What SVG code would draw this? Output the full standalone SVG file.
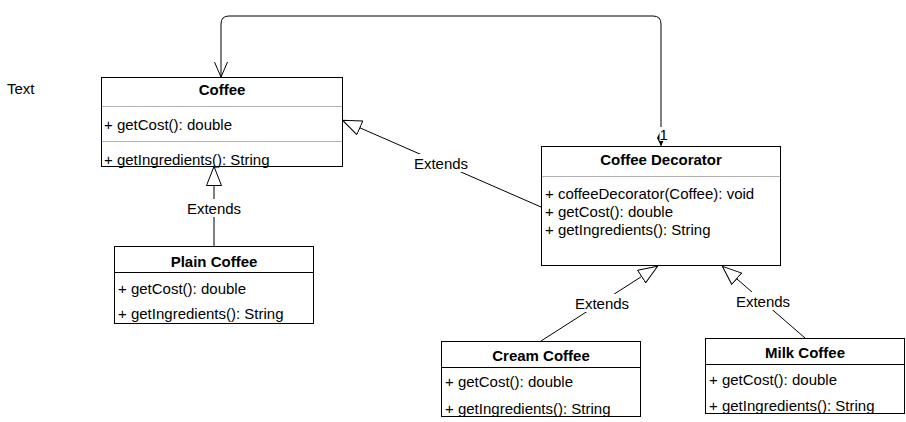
<svg xmlns="http://www.w3.org/2000/svg" width="906" height="422" viewBox="0 0 906 422">
<style>
text{font-family:"Liberation Sans",Arial,sans-serif;font-size:15px;fill:#000}
.t{font-weight:bold;text-anchor:middle}
.box{fill:#fff;stroke:#000;stroke-width:1}
.sep{stroke:#b3b3b3;stroke-width:1}
.sepd{stroke:#000;stroke-width:1}
.c{fill:none;stroke:#000;stroke-width:1}
.lbl{text-anchor:middle}
</style>
<defs>
<marker id="ext" markerUnits="userSpaceOnUse" viewBox="0 0 20 16" refX="20" refY="8" markerWidth="20" markerHeight="16" orient="auto">
<path d="M0.5,0.5 L19.5,8 L0.5,15.5 Z" fill="#fff" stroke="#000" stroke-width="1"/>
</marker>
<marker id="open" markerUnits="userSpaceOnUse" viewBox="0 0 16 14" refX="15.5" refY="7" markerWidth="16" markerHeight="14" orient="auto">
<path d="M0.5,0.5 L15.5,7 L0.5,13.5" fill="none" stroke="#000" stroke-width="1"/>
</marker>
</defs>
<rect width="906" height="422" fill="#fff"/>
<text x="7" y="94">Text</text>
<g id="connectors">
<path class="c" d="M661,146 L661,24 Q661,16 653,16 L229,16 Q221,16 221,24 L221,77" marker-end="url(#open)"/>
<path d="M661,146 L657,138 L661,130 L665,138 Z" fill="#000"/>
<rect x="659.5" y="127" width="9" height="14" fill="#fff"/>
<text x="659.5" y="139.5">1</text>
<line class="c" x1="541" y1="207" x2="342" y2="120" marker-end="url(#ext)"/>
<rect x="410" y="154" width="62" height="18" fill="#fff"/>
<text class="lbl" x="441" y="168.5">Extends</text>
<line class="c" x1="214" y1="246" x2="214" y2="166" marker-end="url(#ext)"/>
<rect x="183" y="199" width="62" height="18" fill="#fff"/>
<text class="lbl" x="214" y="213.5">Extends</text>
<line class="c" x1="541" y1="341" x2="658" y2="266" marker-end="url(#ext)"/>
<rect x="571" y="294" width="62" height="18" fill="#fff"/>
<text class="lbl" x="602" y="308.5">Extends</text>
<line class="c" x1="805" y1="338" x2="722" y2="266" marker-end="url(#ext)"/>
<rect x="732" y="292" width="62" height="18" fill="#fff"/>
<text class="lbl" x="763" y="306.5">Extends</text>
</g>
<g id="coffee">
<rect class="box" x="101.5" y="77.5" width="241" height="89"/>
<line class="sep" x1="102" y1="106.5" x2="342" y2="106.5"/>
<line class="sep" x1="102" y1="141.5" x2="342" y2="141.5"/>
<text class="t" x="222" y="94.5">Coffee</text>
<text x="104" y="129.5">+ getCost(): double</text>
<text x="104" y="164.5">+ getIngredients(): String</text>
</g>
<g id="coffee-decorator">
<rect class="box" x="541.5" y="146.5" width="239" height="119"/>
<line class="sep" x1="542" y1="176.5" x2="780" y2="176.5"/>
<text class="t" x="661" y="164.5">Coffee Decorator</text>
<text x="545" y="199">+ coffeeDecorator(Coffee): void</text>
<text x="545" y="217">+ getCost(): double</text>
<text x="545" y="235">+ getIngredients(): String</text>
</g>
<g id="plain-coffee">
<rect class="box" x="114.5" y="246.5" width="199" height="77"/>
<line class="sepd" x1="115" y1="272.5" x2="313" y2="272.5"/>
<text class="t" x="214" y="266.5">Plain Coffee</text>
<text x="118" y="293.5">+ getCost(): double</text>
<text x="118" y="319">+ getIngredients(): String</text>
</g>
<g id="cream-coffee">
<rect class="box" x="441.5" y="341.5" width="199" height="75"/>
<line class="sepd" x1="442" y1="367.5" x2="640" y2="367.5"/>
<text class="t" x="541" y="360.5">Cream Coffee</text>
<text x="445" y="386.5">+ getCost(): double</text>
<text x="445" y="413.5">+ getIngredients(): String</text>
</g>
<g id="milk-coffee">
<rect class="box" x="705.5" y="338.5" width="199" height="75"/>
<line class="sepd" x1="706" y1="364.5" x2="904" y2="364.5"/>
<text class="t" x="805" y="357.5">Milk Coffee</text>
<text x="709" y="384.5">+ getCost(): double</text>
<text x="709" y="410.5">+ getIngredients(): String</text>
</g>
</svg>
